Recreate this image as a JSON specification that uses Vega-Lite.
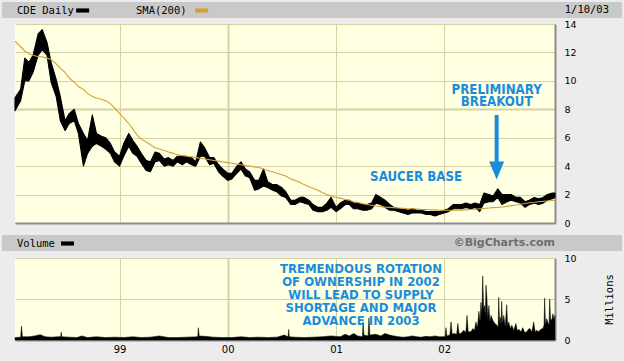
{
"$schema": "https://vega.github.io/schema/vega-lite/v6.json",
"background": "#ececec",
"padding": {"left": 2, "top": 2, "right": 2, "bottom": 8},
"config": {
  "font": "DejaVu Sans",
  "view": {"stroke": null},
  "axis": {"labelFont": "DejaVu Sans", "labelFontSize": 9.5, "labelColor": "#000000", "gridColor": "#d3d3a6", "gridOpacity": 1, "domainColor": "#8c8c8c", "ticks": false, "title": null, "labelOverlap": false},
  "legend": {"labelFont": "DejaVu Sans Mono", "labelFontSize": 10.5, "labelColor": "#000000", "padding": 2, "fillColor": "#c9c9c9", "title": null, "labelOffset": 0, "symbolSize": 169, "symbolStrokeWidth": 0, "direction": "horizontal"}
},
"datasets": {
  "price": [
    {"d":"1998-01-13","lo":7.9,"hi":8.8,"sma":12.8},
    {"d":"1998-02-01","lo":8.6,"hi":9.4,"sma":12.4},
    {"d":"1998-02-15","lo":10.0,"hi":11.6,"sma":12.1},
    {"d":"1998-03-01","lo":10.0,"hi":11.3,"sma":11.9},
    {"d":"1998-03-15","lo":10.6,"hi":11.8,"sma":11.8},
    {"d":"1998-04-01","lo":11.8,"hi":13.3,"sma":11.7},
    {"d":"1998-04-15","lo":12.2,"hi":13.6,"sma":11.7},
    {"d":"1998-05-01","lo":11.8,"hi":12.7,"sma":11.6},
    {"d":"1998-05-15","lo":9.9,"hi":11.3,"sma":11.5},
    {"d":"1998-06-01","lo":8.9,"hi":10.1,"sma":11.2},
    {"d":"1998-06-15","lo":7.2,"hi":8.9,"sma":10.9},
    {"d":"1998-07-01","lo":6.5,"hi":7.2,"sma":10.6},
    {"d":"1998-07-15","lo":7.0,"hi":7.7,"sma":10.2},
    {"d":"1998-08-01","lo":7.2,"hi":8.0,"sma":9.9},
    {"d":"1998-08-15","lo":6.3,"hi":7.0,"sma":9.6},
    {"d":"1998-09-01","lo":4.0,"hi":6.3,"sma":9.4},
    {"d":"1998-09-15","lo":4.9,"hi":5.8,"sma":9.1},
    {"d":"1998-10-01","lo":5.4,"hi":7.6,"sma":8.9},
    {"d":"1998-10-15","lo":5.6,"hi":6.3,"sma":8.8},
    {"d":"1998-11-01","lo":5.4,"hi":6.1,"sma":8.7},
    {"d":"1998-11-15","lo":5.2,"hi":6.0,"sma":8.6},
    {"d":"1998-12-01","lo":4.9,"hi":5.6,"sma":8.4},
    {"d":"1998-12-15","lo":4.3,"hi":5.0,"sma":8.1},
    {"d":"1999-01-01","lo":4.0,"hi":4.7,"sma":7.7},
    {"d":"1999-01-15","lo":4.7,"hi":5.6,"sma":7.4},
    {"d":"1999-02-01","lo":5.4,"hi":6.3,"sma":7.0},
    {"d":"1999-02-15","lo":4.9,"hi":5.8,"sma":6.6},
    {"d":"1999-03-01","lo":4.7,"hi":5.4,"sma":6.2},
    {"d":"1999-03-15","lo":4.2,"hi":4.9,"sma":5.9},
    {"d":"1999-04-01","lo":3.7,"hi":4.4,"sma":5.7},
    {"d":"1999-04-15","lo":3.6,"hi":4.3,"sma":5.5},
    {"d":"1999-05-01","lo":4.3,"hi":5.0,"sma":5.3},
    {"d":"1999-05-15","lo":4.4,"hi":4.9,"sma":5.2},
    {"d":"1999-06-01","lo":4.0,"hi":4.5,"sma":5.1},
    {"d":"1999-06-15","lo":4.1,"hi":4.6,"sma":5.0},
    {"d":"1999-07-01","lo":4.0,"hi":4.4,"sma":4.9},
    {"d":"1999-07-15","lo":4.3,"hi":4.7,"sma":4.8},
    {"d":"1999-08-01","lo":4.1,"hi":4.7,"sma":4.75},
    {"d":"1999-08-15","lo":4.3,"hi":4.7,"sma":4.7},
    {"d":"1999-09-01","lo":4.1,"hi":4.6,"sma":4.65},
    {"d":"1999-09-15","lo":4.0,"hi":4.3,"sma":4.6},
    {"d":"1999-10-01","lo":4.7,"hi":5.7,"sma":4.55},
    {"d":"1999-10-15","lo":4.7,"hi":5.3,"sma":4.5},
    {"d":"1999-11-01","lo":4.1,"hi":4.6,"sma":4.45},
    {"d":"1999-11-15","lo":4.2,"hi":4.6,"sma":4.4},
    {"d":"1999-12-01","lo":3.6,"hi":4.1,"sma":4.35},
    {"d":"1999-12-15","lo":3.3,"hi":3.8,"sma":4.3},
    {"d":"2000-01-01","lo":3.0,"hi":3.5,"sma":4.25},
    {"d":"2000-01-15","lo":3.1,"hi":3.5,"sma":4.2},
    {"d":"2000-02-01","lo":3.5,"hi":4.0,"sma":4.15},
    {"d":"2000-02-15","lo":3.8,"hi":4.3,"sma":4.1},
    {"d":"2000-03-01","lo":3.3,"hi":3.8,"sma":4.05},
    {"d":"2000-03-15","lo":3.2,"hi":3.6,"sma":4.0},
    {"d":"2000-04-01","lo":2.3,"hi":3.0,"sma":3.95},
    {"d":"2000-04-15","lo":2.4,"hi":3.0,"sma":3.9},
    {"d":"2000-05-01","lo":2.6,"hi":3.8,"sma":3.8},
    {"d":"2000-05-15","lo":2.5,"hi":2.9,"sma":3.7},
    {"d":"2000-06-01","lo":2.3,"hi":2.7,"sma":3.6},
    {"d":"2000-06-15","lo":2.2,"hi":2.7,"sma":3.5},
    {"d":"2000-07-01","lo":1.9,"hi":2.5,"sma":3.4},
    {"d":"2000-07-15","lo":1.8,"hi":2.2,"sma":3.3},
    {"d":"2000-08-01","lo":1.3,"hi":1.6,"sma":3.1},
    {"d":"2000-08-15","lo":1.3,"hi":1.6,"sma":3.0},
    {"d":"2000-09-01","lo":1.5,"hi":1.8,"sma":2.85},
    {"d":"2000-09-15","lo":1.4,"hi":1.8,"sma":2.7},
    {"d":"2000-10-01","lo":1.3,"hi":1.6,"sma":2.55},
    {"d":"2000-10-15","lo":0.9,"hi":1.3,"sma":2.45},
    {"d":"2000-11-01","lo":0.8,"hi":1.1,"sma":2.3},
    {"d":"2000-11-15","lo":0.8,"hi":1.1,"sma":2.15},
    {"d":"2000-12-01","lo":0.9,"hi":1.4,"sma":2.0},
    {"d":"2000-12-15","lo":1.1,"hi":1.8,"sma":1.9},
    {"d":"2001-01-01","lo":0.8,"hi":1.1,"sma":1.8},
    {"d":"2001-01-15","lo":1.0,"hi":1.4,"sma":1.75},
    {"d":"2001-02-01","lo":1.3,"hi":1.6,"sma":1.65},
    {"d":"2001-02-15","lo":1.3,"hi":1.6,"sma":1.6},
    {"d":"2001-03-01","lo":1.0,"hi":1.4,"sma":1.5},
    {"d":"2001-03-15","lo":1.0,"hi":1.4,"sma":1.45},
    {"d":"2001-04-01","lo":0.9,"hi":1.3,"sma":1.35},
    {"d":"2001-04-15","lo":0.9,"hi":1.3,"sma":1.3},
    {"d":"2001-05-01","lo":1.0,"hi":1.4,"sma":1.25},
    {"d":"2001-05-15","lo":1.4,"hi":2.0,"sma":1.2},
    {"d":"2001-06-01","lo":1.3,"hi":1.8,"sma":1.15},
    {"d":"2001-06-15","lo":1.1,"hi":1.6,"sma":1.12},
    {"d":"2001-07-01","lo":0.9,"hi":1.3,"sma":1.1},
    {"d":"2001-07-15","lo":0.9,"hi":1.1,"sma":1.08},
    {"d":"2001-08-01","lo":0.8,"hi":1.0,"sma":1.05},
    {"d":"2001-08-15","lo":0.7,"hi":1.0,"sma":1.03},
    {"d":"2001-09-01","lo":0.6,"hi":0.9,"sma":1.0},
    {"d":"2001-09-15","lo":0.7,"hi":1.0,"sma":1.0},
    {"d":"2001-10-01","lo":0.7,"hi":0.9,"sma":0.98},
    {"d":"2001-10-15","lo":0.7,"hi":0.9,"sma":0.96},
    {"d":"2001-11-01","lo":0.6,"hi":0.8,"sma":0.95},
    {"d":"2001-11-15","lo":0.6,"hi":0.8,"sma":0.93},
    {"d":"2001-12-01","lo":0.5,"hi":0.8,"sma":0.92},
    {"d":"2001-12-15","lo":0.6,"hi":0.8,"sma":0.9},
    {"d":"2002-01-01","lo":0.7,"hi":0.9,"sma":0.9},
    {"d":"2002-01-15","lo":0.8,"hi":1.0,"sma":0.9},
    {"d":"2002-02-01","lo":1.0,"hi":1.3,"sma":0.9},
    {"d":"2002-02-15","lo":1.0,"hi":1.3,"sma":0.9},
    {"d":"2002-03-01","lo":1.0,"hi":1.3,"sma":0.9},
    {"d":"2002-03-15","lo":1.1,"hi":1.4,"sma":0.92},
    {"d":"2002-04-01","lo":1.0,"hi":1.3,"sma":0.95},
    {"d":"2002-04-15","lo":1.1,"hi":1.4,"sma":0.97},
    {"d":"2002-05-01","lo":0.8,"hi":1.3,"sma":1.0},
    {"d":"2002-05-15","lo":1.4,"hi":2.1,"sma":1.02},
    {"d":"2002-06-01","lo":1.5,"hi":2.0,"sma":1.05},
    {"d":"2002-06-15","lo":1.5,"hi":1.9,"sma":1.08},
    {"d":"2002-07-01","lo":1.8,"hi":2.4,"sma":1.1},
    {"d":"2002-07-15","lo":1.3,"hi":2.0,"sma":1.13},
    {"d":"2002-08-01","lo":1.5,"hi":2.0,"sma":1.17},
    {"d":"2002-08-15","lo":1.6,"hi":2.0,"sma":1.22},
    {"d":"2002-09-01","lo":1.5,"hi":1.8,"sma":1.27},
    {"d":"2002-09-15","lo":1.4,"hi":1.8,"sma":1.32},
    {"d":"2002-10-01","lo":1.1,"hi":1.5,"sma":1.37},
    {"d":"2002-10-15","lo":1.3,"hi":1.6,"sma":1.42},
    {"d":"2002-11-01","lo":1.4,"hi":1.8,"sma":1.46},
    {"d":"2002-11-15","lo":1.3,"hi":1.7,"sma":1.5},
    {"d":"2002-12-01","lo":1.4,"hi":1.8,"sma":1.52},
    {"d":"2002-12-15","lo":1.6,"hi":2.0,"sma":1.55},
    {"d":"2003-01-01","lo":1.7,"hi":2.1,"sma":1.58},
    {"d":"2003-01-10","lo":1.8,"hi":2.1,"sma":1.6}
  ],
  "volume": [
    {"d":"1998-01-13","v":0.3},{"d":"1998-02-01","v":0.35},{"d":"1998-02-04","v":1.7},{"d":"1998-02-07","v":0.4},
    {"d":"1998-03-01","v":0.4},{"d":"1998-03-20","v":0.5},{"d":"1998-04-08","v":0.65},{"d":"1998-04-25","v":0.4},
    {"d":"1998-05-15","v":0.35},{"d":"1998-06-05","v":0.4},{"d":"1998-06-16","v":0.4},{"d":"1998-06-18","v":0.95},
    {"d":"1998-06-20","v":0.4},{"d":"1998-07-15","v":0.35},{"d":"1998-08-10","v":0.3},{"d":"1998-08-27","v":0.5},
    {"d":"1998-09-15","v":0.3},{"d":"1998-10-15","v":0.4},{"d":"1998-11-15","v":0.3},{"d":"1998-12-15","v":0.35},
    {"d":"1999-01-15","v":0.3},{"d":"1999-02-15","v":0.4},{"d":"1999-03-15","v":0.3},{"d":"1999-04-15","v":0.35},
    {"d":"1999-05-15","v":0.5},{"d":"1999-06-15","v":0.3},{"d":"1999-07-15","v":0.3},{"d":"1999-08-15","v":0.35},
    {"d":"1999-09-22","v":0.4},{"d":"1999-09-24","v":1.5},{"d":"1999-09-27","v":0.5},{"d":"1999-10-15","v":0.45},
    {"d":"1999-11-15","v":0.35},{"d":"1999-12-15","v":0.3},{"d":"2000-01-15","v":0.3},{"d":"2000-02-15","v":0.4},
    {"d":"2000-03-15","v":0.3},{"d":"2000-04-15","v":0.35},{"d":"2000-05-15","v":0.3},{"d":"2000-06-15","v":0.35},
    {"d":"2000-07-10","v":0.6},{"d":"2000-07-23","v":0.4},{"d":"2000-07-25","v":1.3},{"d":"2000-07-27","v":0.4},
    {"d":"2000-08-15","v":0.35},{"d":"2000-09-15","v":0.3},{"d":"2000-10-15","v":0.35},{"d":"2000-11-15","v":0.4},
    {"d":"2000-12-15","v":0.5},{"d":"2001-01-15","v":0.4},{"d":"2001-02-01","v":0.7},{"d":"2001-02-15","v":0.5},
    {"d":"2001-03-01","v":0.8},{"d":"2001-03-15","v":0.5},{"d":"2001-03-31","v":0.4},{"d":"2001-04-02","v":2.2},
    {"d":"2001-04-05","v":0.6},{"d":"2001-04-19","v":0.5},{"d":"2001-04-22","v":2.7},{"d":"2001-04-25","v":0.6},
    {"d":"2001-05-15","v":0.7},{"d":"2001-06-01","v":0.5},{"d":"2001-06-15","v":0.8},{"d":"2001-07-01","v":0.6},
    {"d":"2001-07-15","v":0.5},{"d":"2001-08-01","v":0.4},{"d":"2001-08-15","v":0.35},{"d":"2001-09-01","v":0.4},
    {"d":"2001-09-15","v":0.5},{"d":"2001-10-01","v":0.4},{"d":"2001-10-15","v":0.35},{"d":"2001-11-01","v":0.45},
    {"d":"2001-11-15","v":0.4},{"d":"2001-12-01","v":0.5},{"d":"2001-12-15","v":0.4},
    {"d":"2002-01-04","v":0.4},{"d":"2002-01-07","v":1.5},{"d":"2002-01-10","v":0.5},{"d":"2002-01-20","v":0.6},
    {"d":"2002-01-24","v":2.2},{"d":"2002-01-28","v":0.7},{"d":"2002-02-03","v":0.8},{"d":"2002-02-12","v":0.7},
    {"d":"2002-02-16","v":2.0},{"d":"2002-02-20","v":0.8},{"d":"2002-02-26","v":0.8},{"d":"2002-03-08","v":1.2},
    {"d":"2002-03-15","v":0.9},{"d":"2002-03-19","v":3.0},{"d":"2002-03-23","v":1.0},{"d":"2002-04-01","v":1.0},
    {"d":"2002-04-08","v":1.4},{"d":"2002-04-13","v":1.1},{"d":"2002-04-18","v":2.2},{"d":"2002-04-23","v":1.5},
    {"d":"2002-04-28","v":3.5},{"d":"2002-05-02","v":2.2},{"d":"2002-05-05","v":4.6},{"d":"2002-05-08","v":3.0},
    {"d":"2002-05-11","v":7.8},{"d":"2002-05-14","v":3.8},{"d":"2002-05-17","v":4.2},{"d":"2002-05-20","v":2.8},
    {"d":"2002-05-22","v":6.7},{"d":"2002-05-25","v":5.2},{"d":"2002-05-28","v":2.6},{"d":"2002-06-01","v":4.2},
    {"d":"2002-06-04","v":2.2},{"d":"2002-06-08","v":3.0},{"d":"2002-06-14","v":2.4},{"d":"2002-06-21","v":2.0},
    {"d":"2002-06-28","v":1.8},{"d":"2002-07-02","v":1.6},{"d":"2002-07-04","v":5.2},{"d":"2002-07-07","v":2.0},
    {"d":"2002-07-09","v":2.8},{"d":"2002-07-12","v":1.8},{"d":"2002-07-14","v":4.7},{"d":"2002-07-17","v":2.0},
    {"d":"2002-07-21","v":3.0},{"d":"2002-07-26","v":1.6},{"d":"2002-07-31","v":4.3},{"d":"2002-08-03","v":1.7},
    {"d":"2002-08-07","v":2.2},{"d":"2002-08-12","v":1.4},{"d":"2002-08-17","v":1.8},{"d":"2002-08-24","v":1.2},
    {"d":"2002-08-31","v":2.0},{"d":"2002-09-05","v":1.1},{"d":"2002-09-10","v":1.3},{"d":"2002-09-17","v":1.0},
    {"d":"2002-09-23","v":1.5},{"d":"2002-09-30","v":0.9},{"d":"2002-10-07","v":1.0},{"d":"2002-10-12","v":1.3},
    {"d":"2002-10-17","v":1.4},{"d":"2002-10-24","v":1.0},{"d":"2002-10-30","v":2.2},{"d":"2002-11-04","v":1.0},
    {"d":"2002-11-09","v":1.2},{"d":"2002-11-16","v":1.0},{"d":"2002-11-23","v":1.3},{"d":"2002-11-30","v":1.4},
    {"d":"2002-12-04","v":1.8},{"d":"2002-12-06","v":5.1},{"d":"2002-12-09","v":1.8},{"d":"2002-12-13","v":2.6},
    {"d":"2002-12-18","v":2.0},{"d":"2002-12-21","v":1.9},{"d":"2002-12-23","v":5.0},{"d":"2002-12-26","v":2.6},
    {"d":"2002-12-30","v":2.4},{"d":"2003-01-03","v":3.2},{"d":"2003-01-07","v":2.4},{"d":"2003-01-10","v":3.0}
  ],
  "pnotes": [
    {"d":"2001-09-28","p":3.23,"label":"SAUCER BASE"},
    {"d":"2002-06-27","p":9.36,"label":"PRELIMINARY\nBREAKOUT"}
  ],
  "arrow": [{"d":"2002-06-27","top":7.6,"bottom":4.3,"tip":3.69}],
  "vnotes": [
    {"d":"2001-03-26","p":8.66,"label":"TREMENDOUS ROTATION\nOF OWNERSHIP IN 2002\nWILL LEAD TO SUPPLY\nSHORTAGE AND MAJOR\nADVANCE IN 2003"}
  ],
  "stamp": [{"label":"1/10/03"}],
  "credit": [{"label":"©BigCharts.com"}]
},
"spacing": 7,
"vconcat": [
  {
    "spacing": 1,
    "vconcat": [
      {
        "width": 607, "height": 16,
        "data": {"name": "stamp"},
        "mark": {"type": "text", "align": "right", "baseline": "middle", "dx": -13, "font": "DejaVu Sans Mono", "fontSize": 10.5, "color": "#000000"},
        "encoding": {
          "x": {"datum": 1, "type": "quantitative", "scale": {"domain": [0, 1]}, "axis": null},
          "text": {"field": "label"}
        },
        "view": {"fill": "#c9c9c9", "stroke": null}
      },
      {
        "width": 540, "height": 199,
        "view": {"fill": "#ffffe2", "stroke": null},
        "encoding": {
          "x": {"field": "d", "type": "temporal",
                "scale": {"domain": [{"year":1998,"month":1,"date":13},{"year":2003,"month":1,"date":10}]},
                "axis": {"values": [{"year":1999,"month":1,"date":1},{"year":2000,"month":1,"date":1},{"year":2001,"month":1,"date":1},{"year":2002,"month":1,"date":1}],
                         "labels": false, "domain": true, "domainWidth": 2, "grid": true,
                         "gridWidth": {"condition": {"test": "year(datum.value) == 2000", "value": 2}, "value": 1}}}
        },
        "resolve": {"axis": {"y": "independent"}},
        "layer": [
          {
            "data": {"name": "price"},
            "mark": {"type": "area", "stroke": "#000000", "strokeWidth": 1.1, "strokeJoin": "round"},
            "encoding": {
              "y": {"field": "lo", "type": "quantitative", "scale": {"domain": [0, 14]},
                    "axis": {"orient": "right", "values": [0,2,4,6,8,10,12,14], "domain": true, "domainWidth": 2, "labelPadding": 9, "grid": true,
                             "gridWidth": {"condition": {"test": "datum.value == 8", "value": 2}, "value": 1}}},
              "y2": {"field": "hi"},
              "color": {"datum": "CDE Daily", "type": "nominal",
                        "scale": {"domain": ["CDE Daily", "SMA(200)"], "range": ["#000000", "#d4a035"]},
                        "legend": {"orient": "none", "legendX": -13, "legendY": 0, "direction": "horizontal",
                                   "symbolType": "M10.1,-0.32H12.1V0.32H10.1Z", "columnPadding": 33,
                                   "encode": {"symbols": {"update": {"fill": {"scale": "color", "field": "value"}, "stroke": {"value": "transparent"}, "opacity": {"value": 1}}}}}}
            }
          },
          {
            "data": {"name": "price"},
            "mark": {"type": "line", "strokeWidth": 1.1},
            "encoding": {
              "y": {"field": "sma", "type": "quantitative", "axis": null},
              "color": {"datum": "SMA(200)", "type": "nominal"}
            }
          },
          {
            "data": {"name": "pnotes"},
            "mark": {"type": "text", "font": "DejaVu Sans Condensed", "fontWeight": "bold", "fontSize": 13.2, "color": "#1a8cdc", "lineBreak": "\n", "lineHeight": 12.5, "baseline": "middle", "align": "center"},
            "encoding": {
              "y": {"field": "p", "type": "quantitative", "axis": null},
              "text": {"field": "label"}
            }
          },
          {
            "data": {"name": "arrow"},
            "mark": {"type": "rule", "strokeWidth": 4, "color": "#1a8cdc"},
            "encoding": {
              "y": {"field": "top", "type": "quantitative", "axis": null},
              "y2": {"field": "bottom"}
            }
          },
          {
            "data": {"name": "arrow"},
            "mark": {"type": "point", "shape": "M-1,-1.2L1,-1.2L0,1.2Z", "size": 225, "filled": true, "color": "#1a8cdc", "opacity": 1},
            "encoding": {
              "y": {"field": "tip", "type": "quantitative", "axis": null}
            }
          }
        ]
      }
    ]
  },
  {
    "spacing": 2,
    "vconcat": [
      {
        "width": 607, "height": 16,
        "data": {"name": "credit"},
        "mark": {"type": "text", "align": "right", "baseline": "middle", "dx": -67, "font": "DejaVu Sans", "fontWeight": "bold", "fontSize": 11, "color": "#6e6e6e"},
        "encoding": {
          "x": {"datum": 1, "type": "quantitative", "scale": {"domain": [0, 1]}, "axis": null},
          "text": {"field": "label"}
        },
        "view": {"fill": "#c9c9c9", "stroke": null}
      },
      {
        "width": 540, "height": 82,
        "view": {"fill": "#ffffe2", "stroke": null},
        "encoding": {
          "x": {"field": "d", "type": "temporal",
                "scale": {"domain": [{"year":1998,"month":1,"date":13},{"year":2003,"month":1,"date":10}]},
                "axis": {"values": [{"year":1999,"month":1,"date":1},{"year":2000,"month":1,"date":1},{"year":2001,"month":1,"date":1},{"year":2002,"month":1,"date":1}],
                         "format": "%y", "labels": true, "labelPadding": 4, "labelFontSize": 10, "domain": true, "domainWidth": 2, "grid": true,
                         "gridWidth": {"condition": {"test": "year(datum.value) == 2000", "value": 2}, "value": 1}}}
        },
        "resolve": {"axis": {"y": "independent"}},
        "layer": [
          {
            "data": {"name": "volume"},
            "mark": {"type": "area", "stroke": "#000000", "strokeWidth": 0.5},
            "encoding": {
              "y": {"field": "v", "type": "quantitative", "scale": {"domain": [0, 10]},
                    "axis": {"orient": "right", "values": [0,5,10], "domain": true, "domainWidth": 2, "labelPadding": 9, "grid": true,
                             "title": "Millions", "titleAngle": 270, "titlePadding": 38, "titleFont": "DejaVu Sans Mono", "titleFontSize": 10.5, "titleFontWeight": "normal", "titleColor": "#000000"}},
              "fill": {"datum": "Volume", "type": "nominal",
                       "scale": {"domain": ["Volume"], "range": ["#000000"]},
                       "legend": {"orient": "none", "legendX": -13, "legendY": 233,
                                  "symbolType": "M7.77,-0.32H9.77V0.32H7.77Z",
                                  "encode": {"symbols": {"update": {"fill": {"scale": "fill", "field": "value"}, "stroke": {"value": "transparent"}, "opacity": {"value": 1}}}}}}
            }
          },
          {
            "data": {"name": "vnotes"},
            "mark": {"type": "text", "font": "DejaVu Sans Condensed", "fontWeight": "bold", "fontSize": 13, "color": "#1a8cdc", "lineBreak": "\n", "lineHeight": 13.1, "baseline": "middle", "align": "center"},
            "encoding": {
              "y": {"field": "p", "type": "quantitative", "axis": null},
              "text": {"field": "label"}
            }
          }
        ]
      }
    ]
  }
]
}
